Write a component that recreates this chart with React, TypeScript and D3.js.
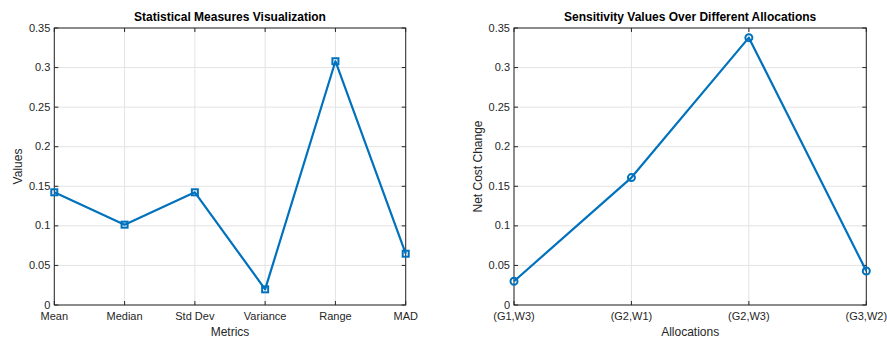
import React from "react"
import * as d3 from "d3"

const metrics = ["Mean", "Median", "Std Dev", "Variance", "Range", "MAD"]
const metricValues = [0.1424, 0.1015, 0.1424, 0.0198, 0.308, 0.0648]

const allocations = ["(G1,W3)", "(G2,W1)", "(G2,W3)", "(G3,W2)"]
const sensitivityValues = [0.030, 0.161, 0.3378, 0.043]

const yTicks = [0, 0.05, 0.1, 0.15, 0.2, 0.25, 0.3, 0.35]

const FONT = "'Liberation Sans', Arial, Helvetica, sans-serif"
const LINE = "#0072BD"
const TEXT = "#262626"

interface PanelProps {
    left: number,
    right: number,
    top: number,
    bottom: number,
    categories: string[],
    values: number[],
    title: string,
    xLabel: string,
    yLabel: string,
    yLabelX: number,
    marker: "square" | "circle",
}

function Panel(props: PanelProps) {
    const { left, right, top, bottom, categories, values, title, xLabel, yLabel, yLabelX, marker } = props

    const x = d3.scalePoint<string>().domain(categories).range([left, right])
    const y = d3.scaleLinear().domain([0, 0.35]).range([bottom, top])

    const line = d3.line<number>()
        .x((_, i) => x(categories[i]) as number)
        .y(d => y(d))

    const tick = 4

    return (
        <g fontFamily={FONT}>
            {/* grid */}
            {categories.map(c => (
                <line key={"gx" + c} x1={x(c)} x2={x(c)} y1={top} y2={bottom} stroke="#e3e3e3" strokeWidth={1} />
            ))}
            {yTicks.map(t => (
                <line key={"gy" + t} x1={left} x2={right} y1={y(t)} y2={y(t)} stroke="#e3e3e3" strokeWidth={1} />
            ))}
            {/* box */}
            <rect x={left} y={top} width={right - left} height={bottom - top} fill="none" stroke="#262626" strokeWidth={1} />
            {/* ticks */}
            {categories.map(c => (
                <g key={"tx" + c}>
                    <line x1={x(c)} x2={x(c)} y1={bottom} y2={bottom - tick} stroke="#262626" />
                    <line x1={x(c)} x2={x(c)} y1={top} y2={top + tick} stroke="#262626" />
                    <text x={x(c)} y={bottom + 15} textAnchor="middle" fontSize={11} fill={TEXT}>{c}</text>
                </g>
            ))}
            {yTicks.map(t => (
                <g key={"ty" + t}>
                    <line x1={left} x2={left + tick} y1={y(t)} y2={y(t)} stroke="#262626" />
                    <line x1={right} x2={right - tick} y1={y(t)} y2={y(t)} stroke="#262626" />
                    <text x={left - 4} y={y(t) + 3.5} textAnchor="end" fontSize={11} fill={TEXT}>{d3.format("")(t)}</text>
                </g>
            ))}
            {/* series */}
            <path d={line(values) ?? ""} fill="none" stroke={LINE} strokeWidth={2.2} strokeLinejoin="round" />
            {values.map((v, i) => marker === "square" ? (
                <rect key={"m" + i} x={(x(categories[i]) as number) - 3} y={y(v) - 3} width={6} height={6}
                    fill="none" stroke={LINE} strokeWidth={2} />
            ) : (
                <circle key={"m" + i} cx={x(categories[i])} cy={y(v)} r={3.5} fill="none" stroke={LINE} strokeWidth={2} />
            ))}
            {/* labels */}
            <text x={(left + right) / 2} y={top - 7} textAnchor="middle" fontSize={12} fontWeight="bold" fill="#000">{title}</text>
            <text x={(left + right) / 2} y={bottom + 31} textAnchor="middle" fontSize={12} fill={TEXT}>{xLabel}</text>
            <text transform={`translate(${yLabelX}, ${(top + bottom) / 2}) rotate(-90)`} textAnchor="middle" fontSize={12} fill={TEXT}>{yLabel}</text>
        </g>
    )
}

export default function App() {
    return (
        <svg width={887} height={338} style={{ position: "absolute", left: 0, top: 0, background: "#fff" }}>
            <rect width={887} height={338} fill="#fff" />
            <Panel left={54.3} right={405.7} top={28} bottom={305} categories={metrics} values={metricValues}
                title="Statistical Measures Visualization" xLabel="Metrics" yLabel="Values" yLabelX={22} marker="square" />
            <Panel left={514} right={866.3} top={28} bottom={305} categories={allocations} values={sensitivityValues}
                title="Sensitivity Values Over Different Allocations" xLabel="Allocations" yLabel="Net Cost Change" yLabelX={482} marker="circle" />
        </svg>
    )
}
